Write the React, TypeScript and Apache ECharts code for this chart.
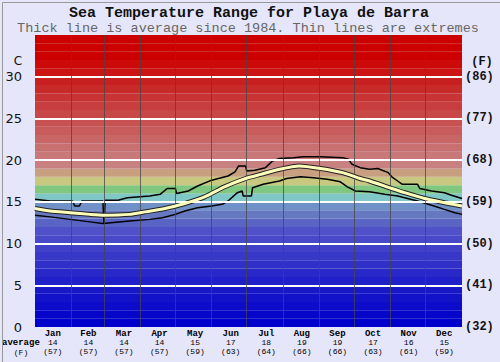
import React, { useEffect, useRef } from 'react';
import * as echarts from 'echarts';

const months = ['Jan', 'Feb', 'Mar', 'Apr', 'May', 'Jun', 'Jul', 'Aug', 'Sep', 'Oct', 'Nov', 'Dec'];
const monthAvgC = [14, 14, 14, 14, 15, 17, 18, 19, 19, 17, 16, 15];
const monthAvgF = [57, 57, 57, 57, 59, 63, 64, 66, 66, 63, 61, 59];
const monthStartDays = [0, 31, 59, 90, 120, 151, 181, 212, 243, 273, 304, 334, 365];
const whiteLines = [5, 10, 15, 20, 25, 30];

const avgDays = [0, 13, 30, 47, 59, 81, 94, 111, 128, 145, 162, 180, 193, 209, 226, 244, 263, 278, 286, 305, 316, 333, 350, 365];
const avgTemps = [14.2, 13.9, 13.7, 13.5, 13.4, 13.5, 13.8, 14.2, 14.8, 15.6, 16.8, 17.8, 18.3, 18.9, 19.3, 19.0, 18.5, 17.8, 17.5, 16.6, 16.1, 15.4, 14.9, 14.5];

const maxDays = [0, 13, 32, 34, 38, 40, 56, 58, 59, 60, 71, 79, 98, 107, 113, 120, 121, 131, 139, 151, 165, 171, 174, 180, 181, 188, 197, 203, 209, 221, 229, 244, 263, 268, 271, 278, 286, 293, 302, 305, 310, 314, 327, 329, 339, 350, 356, 365];
const maxTemps = [15.3, 15.1, 15.1, 14.5, 14.5, 15.1, 15.1, 15.1, 12.4, 15.2, 15.2, 15.5, 15.7, 15.9, 16.6, 16.6, 16.0, 16.3, 16.9, 17.6, 18.1, 18.6, 19.3, 19.3, 18.7, 18.8, 19.1, 19.9, 20.2, 20.3, 20.4, 20.4, 20.3, 20.1, 19.5, 19.1, 18.9, 19.0, 18.5, 18.0, 17.5, 17.1, 17.1, 16.6, 16.3, 16.1, 15.8, 15.4];

const minDays = [0, 13, 30, 47, 58, 81, 98, 109, 120, 128, 139, 151, 160, 165, 173, 177, 178, 185, 186, 195, 209, 215, 227, 238, 250, 261, 267, 274, 286, 299, 310, 327, 339, 350, 359, 365];
const minTemps = [13.4, 13.2, 12.9, 12.6, 12.4, 12.7, 12.9, 13.1, 13.5, 13.9, 14.3, 14.5, 14.7, 15.1, 16.1, 16.3, 15.7, 15.7, 16.7, 17.1, 17.5, 17.8, 18.0, 17.9, 17.7, 17.4, 16.8, 16.3, 16.2, 15.9, 15.7, 15.1, 14.6, 14.1, 13.7, 13.5];

// colour of each 1°C band, from 0-1 up to 34-35
const bandColors = [
  '#0000cc', '#0606cb', '#0c0cca', '#1212c9', '#1818c8', '#2020c8', '#2828c8', '#3030c8', '#3838c8', '#4040c8',
  '#4848c8', '#5050c8', '#5a64c4', '#6678c0', '#7090c8', '#80c8c8', '#80c880', '#c8c880', '#c8a080', '#c88080',
  '#c87878', '#c87070', '#c86666', '#c85c5c', '#c85252', '#c84848', '#c83e3e', '#c83434', '#c82a2a', '#c82020',
  '#cc1414', '#cc0a0a', '#cc0000', '#cc0000', '#cc0000',
];

const zip = (d: number[], v: number[]) => d.map((x, i) => [x, v[i]]);

export default function App() {
  const ref = useRef<HTMLDivElement>(null);
  useEffect(() => {
    if (!ref.current) return;
    const chart = echarts.init(ref.current, undefined, { renderer: 'svg' });
    const mono = 'Liberation Mono';
    chart.setOption({
      animation: false,
      backgroundColor: '#e6e6fa',
      grid: { left: 35, top: 35, width: 427, height: 292, containLabel: false },
      xAxis: [
        { type: 'value', min: 0, max: 365, show: false },
        {
          type: 'category',
          data: months,
          position: 'bottom',
          boundaryGap: true,
          axisLine: { show: false },
          axisTick: { show: false },
          splitLine: { show: false },
          axisLabel: {
            margin: 2,
            interval: 0,
            formatter: (v: string, i: number) => `{m|${v}}\n{v|${monthAvgC[i]}}\n{f|(${monthAvgF[i]})}`,
            rich: {
              m: { fontFamily: mono, fontWeight: 'bold', fontSize: 9, lineHeight: 9, color: '#000' },
              v: { fontFamily: mono, fontSize: 8, lineHeight: 9, color: '#000' },
              f: { fontFamily: mono, fontSize: 8, lineHeight: 9, color: '#000' },
            },
          },
        },
      ],
      yAxis: [
        {
          type: 'value', min: 0, max: 35, interval: 5, position: 'left',
          axisLine: { show: false }, axisTick: { show: false }, splitLine: { show: false },
          axisLabel: {
            margin: 13, fontFamily: 'DejaVu Sans', fontSize: 13, color: '#111',
            formatter: (v: number) => (v === 35 ? '' : String(v)),
          },
        },
        {
          type: 'value', min: 0, max: 35, interval: 5, position: 'right',
          axisLine: { show: false }, axisTick: { show: false }, splitLine: { show: false },
          axisLabel: {
            margin: 3, fontFamily: mono, fontWeight: 'bold', fontSize: 12, color: '#111',
            formatter: (v: number) => (v === 35 ? '' : `(${Math.round((v * 9) / 5 + 32)})`),
          },
        },
      ],
      series: [
        {
          type: 'line', data: [], z: 1, silent: true,
          markArea: {
            silent: true,
            data: bandColors.map((c, i) => [
              { yAxis: i, itemStyle: { color: c, opacity: 1 } },
              { yAxis: i + 1 },
            ]),
          },
        },
        {
          type: 'line', data: [], z: 2, silent: true,
          markLine: {
            silent: true, symbol: 'none', label: { show: false },
            data: [
              ...whiteLines.map((v) => ({ yAxis: v, lineStyle: { color: '#ffffff', width: 2, type: 'solid' } })),
              ...monthStartDays.slice(1, -1).map((d) => ({ xAxis: d, lineStyle: { color: 'rgba(70,70,70,0.75)', width: 1, type: 'solid' } })),
            ],
          },
        },
        {
          type: 'line', data: zip(maxDays, maxTemps), z: 3, symbol: 'none',
          lineStyle: { color: '#000', width: 1.5 },
        },
        {
          type: 'line', data: zip(minDays, minTemps), z: 3, symbol: 'none',
          lineStyle: { color: '#000', width: 1.5 },
        },
        {
          type: 'line', data: zip(avgDays, avgTemps), z: 4, symbol: 'none', smooth: 0.2,
          lineStyle: { color: '#222', width: 5 },
        },
        {
          type: 'line', data: zip(avgDays, avgTemps), z: 5, symbol: 'none', smooth: 0.2,
          lineStyle: { color: '#ffffbb', width: 3 },
        },
      ],
      graphic: [
        { type: 'rect', left: 0, top: 0, shape: { width: 499, height: 361 }, style: { fill: 'none', stroke: '#999', lineWidth: 1 }, z: 100 },
        { type: 'text', x: 249, y: 13, style: { text: 'Sea Temperature Range for Playa de Barra', fontFamily: mono, fontWeight: 'bold', fontSize: 15, fill: '#111', textAlign: 'center', textVerticalAlign: 'middle' } },
        { type: 'text', x: 248, y: 28, style: { text: 'Thick line is average since 1984. Thin lines are extremes', fontFamily: mono, fontSize: 13.5, fill: '#666', textAlign: 'center', textVerticalAlign: 'middle' } },
        { type: 'text', x: 18, y: 61, style: { text: 'C', fontFamily: 'DejaVu Sans', fontSize: 12, fill: '#111', textAlign: 'center', textVerticalAlign: 'middle' } },
        { type: 'text', x: 482, y: 62, style: { text: '(F)', fontFamily: mono, fontWeight: 'bold', fontSize: 12, fill: '#111', textAlign: 'center', textVerticalAlign: 'middle' } },
        { type: 'text', x: 2, y: 343, style: { text: 'average', fontFamily: mono, fontWeight: 'bold', fontSize: 9, fill: '#000', textAlign: 'left', textVerticalAlign: 'middle' } },
        { type: 'text', x: 21, y: 352.5, style: { text: '(F)', fontFamily: mono, fontSize: 8, fill: '#000', textAlign: 'center', textVerticalAlign: 'middle' } },
      ],
    });
    return () => chart.dispose();
  }, []);
  return <div ref={ref} style={{ position: 'fixed', left: 0, top: 0, width: 500, height: 362 }} />;
}
